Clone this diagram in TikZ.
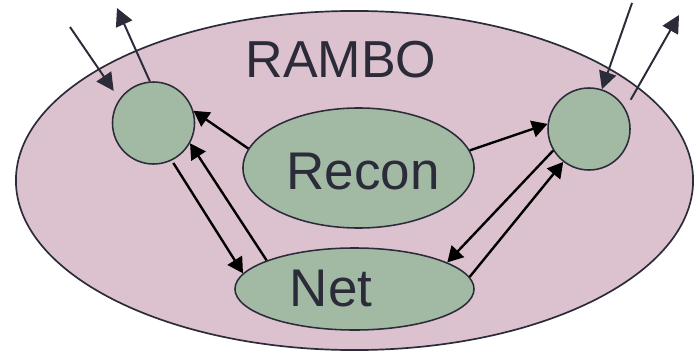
\documentclass[tikz,border=0pt]{standalone}
\usepackage{fontspec}
\setmainfont{Liberation Sans}
\usetikzlibrary{shapes.geometric,arrows.meta}
\definecolor{rambopink}{HTML}{DCC2CF}
\definecolor{partgreen}{HTML}{A2BAA4}
\definecolor{inkdark}{HTML}{2B2B3A}
\begin{document}
\begin{tikzpicture}[x=0.025cm,y=-0.025cm,
	part/.style={draw=inkdark, line width=1.1pt, fill=partgreen, inner sep=0pt},
	bigtxt/.style={text=inkdark, font=\fontsize{37.7}{40}\selectfont},
	flow/.style={black, line width=1.7pt, -{Triangle[length=11pt,width=12pt]}},
	ext/.style={inkdark, line width=1.4pt, -{Triangle[length=12.5pt,width=12.5pt]}}
	]
	\useasboundingbox (0,0) rectangle (694,354);
	\node (rambo) [ellipse, draw=inkdark, line width=1.2pt, fill=rambopink, minimum width=16.925cm, minimum height=8.475cm] at (354.5,180.5) {};
	\node (title) [text=inkdark, font=\fontsize{37}{40}\selectfont] at (341,60) {RAMBO};
	\node (lc) [part, circle, minimum size=2.05cm] at (153.5,123) {};
	\node (rc) [part, circle, minimum size=2.05cm] at (589,129) {};
	\node (recon) [part, ellipse, minimum width=5.775cm, minimum height=3cm] at (358.5,168) {};
	\node (recontxt) [bigtxt] at (363,172) {Recon};
	\node (net) [part, ellipse, minimum width=5.975cm, minimum height=2.05cm] at (354.5,289) {};
	\node (nettxt) [bigtxt] at (331,289) {Net};
	\coordinate (inL) at (70,27);
	\coordinate (outL) at (117,8);
	\coordinate (inR) at (632,3);
	\coordinate (outR) at (679,15);
	\draw[ext, shorten >=7pt] (inL) -- (lc.145);
	\draw[ext] (lc.95) -- (outL);
	\draw[ext] (inR) -- (rc.72);
	\draw[ext, shorten <=7.4pt] (rc.29) -- (outR);
	\draw[flow] (recon.170) -- (lc.17);
	\draw[flow, shorten <=2pt] (lc.-64) -- (net.172);
	\draw[flow] (net.162) -- (lc.-29);
	\draw[flow] (recon.9) -- (rc.173);
	\draw[flow] (rc.211) -- (net.16);
	\draw[flow] (net.6) -- (rc.232);
\end{tikzpicture}
\end{document}
